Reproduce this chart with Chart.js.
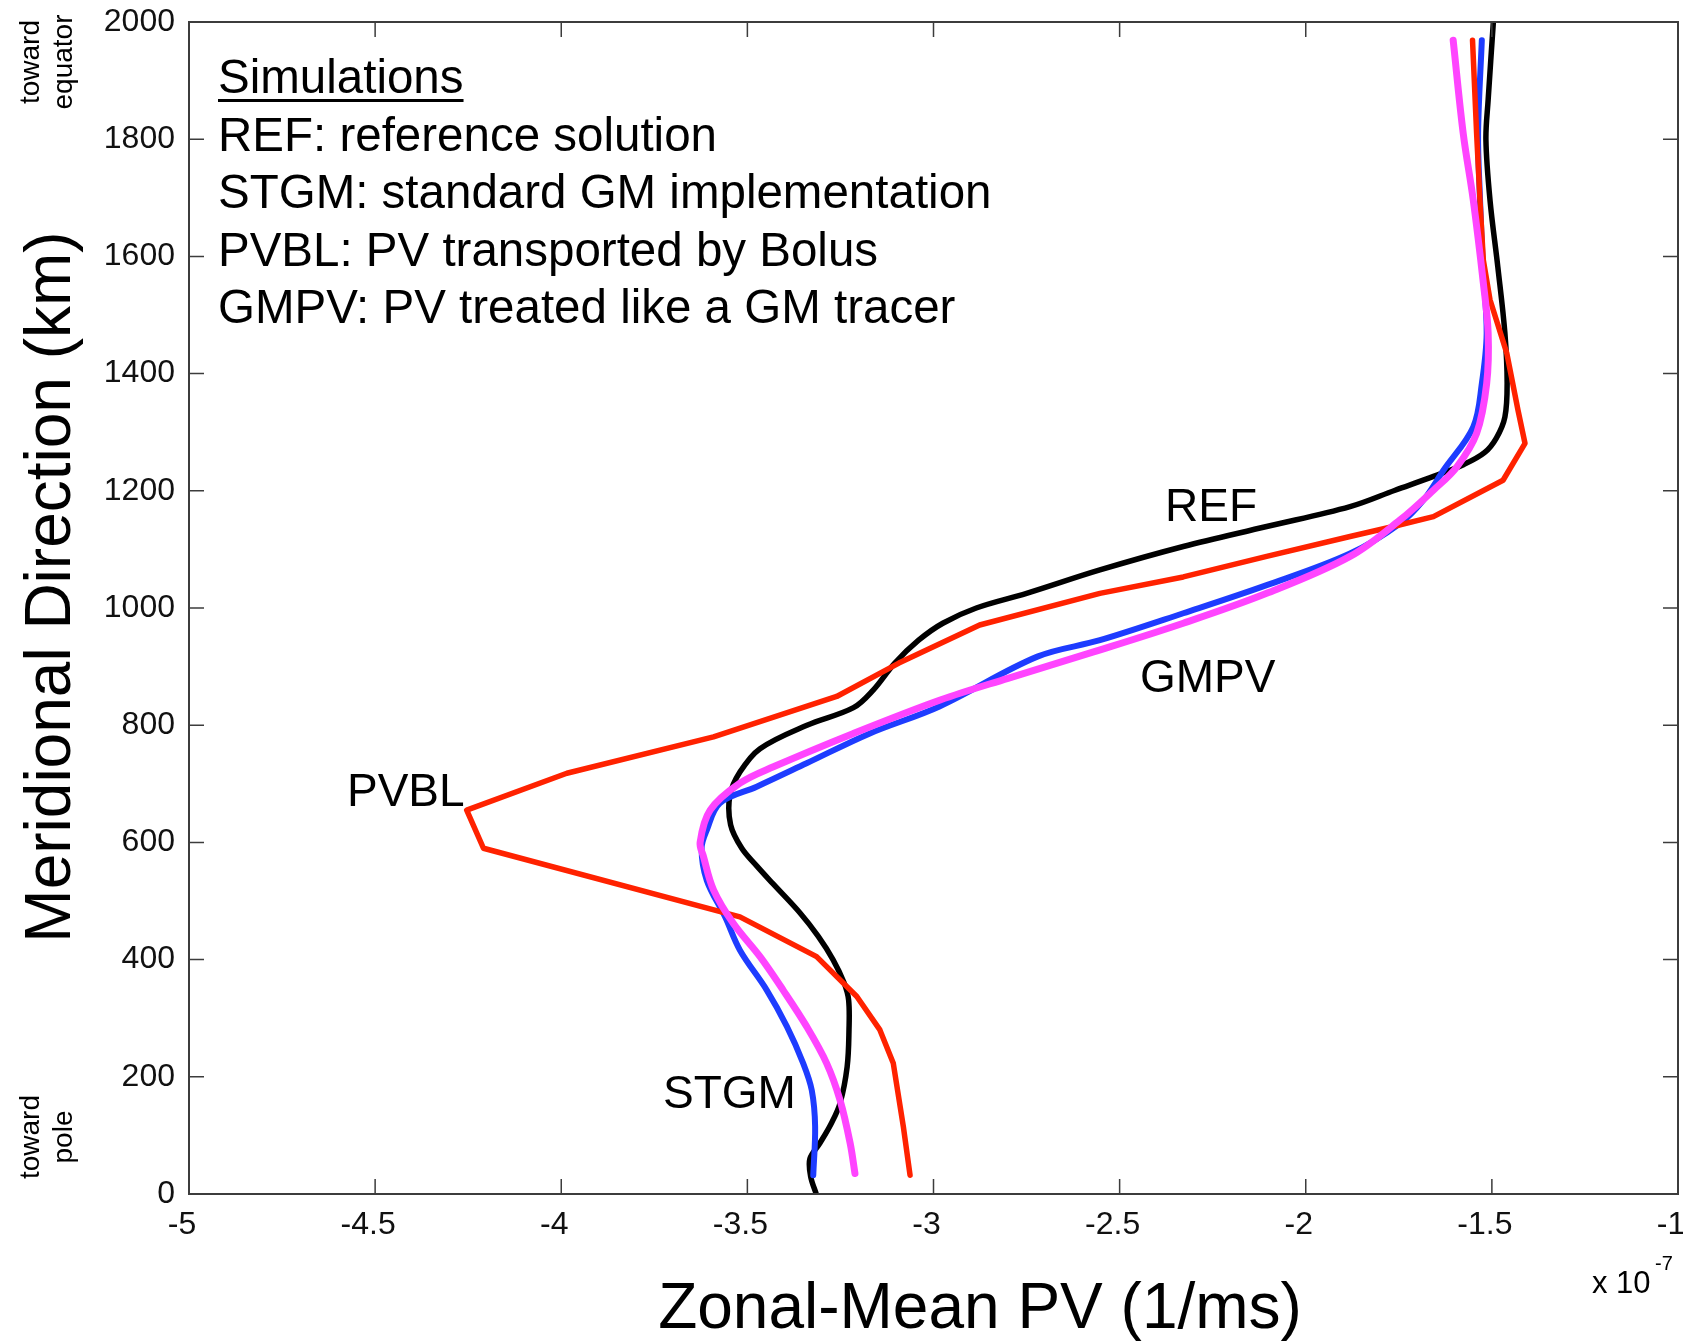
<!DOCTYPE html>
<html>
<head>
<meta charset="utf-8">
<title>Zonal-Mean PV</title>
<script src="https://cdn.jsdelivr.net/npm/chart.js"></script>
<style>
  body { margin: 0; background: #fff; }
  #wrap { width: 1683px; height: 1343px; position: relative; }
</style>
</head>
<body>
<div id="wrap"><canvas id="pvChart"></canvas></div>
<script>
// values: km (meridional) vs zonal-mean PV (x 1e-7)
const refKm = [0, 30, 60, 87, 120, 155, 217, 280, 331, 360, 400, 440, 480, 530, 560, 590, 630, 680, 720, 760, 800, 830, 860, 906, 945, 974, 1000, 1025, 1065, 1105, 1139, 1173, 1201, 1225, 1245, 1265, 1290, 1326, 1384, 1469, 1582, 1696, 1799, 1867, 2000];
const refPV = [-3.315, -3.330, -3.332, -3.305, -3.275, -3.251, -3.232, -3.227, -3.228, -3.240, -3.270, -3.310, -3.359, -3.432, -3.475, -3.515, -3.545, -3.547, -3.520, -3.466, -3.340, -3.215, -3.162, -3.104, -3.040, -2.975, -2.885, -2.750, -2.553, -2.329, -2.105, -1.881, -1.760, -1.655, -1.575, -1.520, -1.488, -1.465, -1.459, -1.465, -1.484, -1.505, -1.516, -1.510, -1.496];

const stgmKm = [32, 115, 177, 223, 286, 348, 416, 473, 535, 590, 621, 667, 695, 735, 786, 832, 917, 945, 991, 1039, 1093, 1144, 1184, 1235, 1309, 1383, 1469, 1582, 1700, 1810, 1969];
const stgmPV = [-3.323, -3.318, -3.327, -3.350, -3.394, -3.448, -3.520, -3.560, -3.609, -3.623, -3.609, -3.574, -3.475, -3.341, -3.171, -2.984, -2.721, -2.553, -2.329, -2.105, -1.881, -1.747, -1.684, -1.630, -1.550, -1.527, -1.514, -1.524, -1.532, -1.537, -1.527];

const pvblKm = [32, 115, 223, 280, 337, 405, 473, 590, 655, 718, 780, 849, 906, 971, 1025, 1053, 1088, 1122, 1139, 1156, 1218, 1281, 1338, 1435, 1526, 1594, 1696, 1810, 1969];
const pvblPV = [-3.063, -3.081, -3.108, -3.144, -3.206, -3.314, -3.520, -4.209, -4.254, -3.985, -3.591, -3.260, -3.093, -2.876, -2.553, -2.329, -2.105, -1.881, -1.765, -1.657, -1.470, -1.411, -1.430, -1.460, -1.505, -1.523, -1.532, -1.541, -1.552];

const gmpvKm = [35, 87, 160, 223, 286, 348, 405, 462, 519, 576, 600, 655, 701, 729, 786, 843, 880, 925, 974, 1025, 1088, 1150, 1201, 1241, 1298, 1383, 1469, 1555, 1696, 1810, 1969];
const gmpvPV = [-3.211, -3.224, -3.251, -3.287, -3.341, -3.404, -3.466, -3.538, -3.591, -3.618, -3.627, -3.600, -3.520, -3.430, -3.215, -2.982, -2.800, -2.570, -2.329, -2.105, -1.881, -1.747, -1.657, -1.594, -1.541, -1.514, -1.510, -1.523, -1.550, -1.577, -1.604];

const pvTicks = [-5, -4.5, -4, -3.5, -3, -2.5, -2, -1.5, -1];
const kmTicks = [0, 200, 400, 600, 800, 1000, 1200, 1400, 1600, 1800, 2000];

const legendLines = [
  "REF: reference solution",
  "STGM: standard GM implementation",
  "PVBL: PV transported by Bolus",
  "GMPV: PV treated like a GM tracer"
];
const curveLabels = [
  { text: "REF", x: 1165, y: 521 },
  { text: "GMPV", x: 1140, y: 692 },
  { text: "PVBL", x: 347, y: 806 },
  { text: "STGM", x: 663, y: 1108 }
];

const FONT = "Arial, 'Liberation Sans', Helvetica, sans-serif";

function toPoints(km, pv) {
  return km.map((y, i) => ({ x: pv[i], y: y }));
}

function lineSet(label, km, pv, color, width, tension, order) {
  return {
    label: label,
    data: toPoints(km, pv),
    showLine: true,
    borderColor: color,
    backgroundColor: color,
    borderWidth: width,
    pointRadius: 0,
    tension: tension,
    borderJoinStyle: "round",
    borderCapStyle: "round",
    order: order
  };
}

function noOverflow(s) {
  // keep the plot box where the figure has it, labels may hang over
  s.paddingTop = 0;
  s.paddingBottom = 0;
  s.paddingLeft = 0;
  s.paddingRight = 0;
}

// frame, inward ticks and all the annotation text
const decorations = {
  id: "decorations",
  afterDatasetsDraw(chart) {
    const { ctx, chartArea } = chart;
    const xs = chart.scales.x;
    const ys = chart.scales.y;
    const tick = 15;
    ctx.save();
    ctx.strokeStyle = "#3c3c3c";
    ctx.lineWidth = 2;
    ctx.strokeRect(chartArea.left, chartArea.top, chartArea.right - chartArea.left, chartArea.bottom - chartArea.top);
    ctx.lineWidth = 1.5;
    ctx.beginPath();
    xs.ticks.forEach((t) => {
      const px = xs.getPixelForValue(t.value);
      ctx.moveTo(px, chartArea.bottom);
      ctx.lineTo(px, chartArea.bottom - tick);
      ctx.moveTo(px, chartArea.top);
      ctx.lineTo(px, chartArea.top + tick);
    });
    ys.ticks.forEach((t) => {
      const py = ys.getPixelForValue(t.value);
      ctx.moveTo(chartArea.left, py);
      ctx.lineTo(chartArea.left + tick, py);
      ctx.moveTo(chartArea.right, py);
      ctx.lineTo(chartArea.right - tick, py);
    });
    ctx.stroke();

    ctx.fillStyle = "#000";
    ctx.textBaseline = "alphabetic";
    ctx.textAlign = "left";

    // legend block
    ctx.font = "47.5px " + FONT;
    ctx.fillText("Simulations", 218, 93);
    const w = ctx.measureText("Simulations").width;
    ctx.fillRect(218, 99, w, 3);
    legendLines.forEach((line, i) => {
      ctx.fillText(line, 218, 150.5 + i * 57.5);
    });

    // curve labels
    ctx.font = "46px " + FONT;
    curveLabels.forEach((l) => ctx.fillText(l.text, l.x, l.y));

    // axis titles
    ctx.font = "64px " + FONT;
    ctx.textAlign = "center";
    ctx.fillText("Zonal-Mean PV (1/ms)", 980, 1328);
    ctx.save();
    ctx.translate(70, 587);
    ctx.rotate(-Math.PI / 2);
    ctx.fillText("Meridional Direction (km)", 0, 0);
    ctx.restore();

    // toward equator / toward pole
    ctx.font = "28px " + FONT;
    [[62, "toward", "equator"], [1137, "toward", "pole"]].forEach(([cy, a, b]) => {
      ctx.save();
      ctx.translate(39, cy);
      ctx.rotate(-Math.PI / 2);
      ctx.fillText(a, 0, 0);
      ctx.restore();
      ctx.save();
      ctx.translate(72, cy);
      ctx.rotate(-Math.PI / 2);
      ctx.fillText(b, 0, 0);
      ctx.restore();
    });

    // exponent note
    ctx.textAlign = "left";
    ctx.font = "31px " + FONT;
    ctx.fillText("x 10", 1592, 1293);
    ctx.font = "20px " + FONT;
    ctx.fillText("-7", 1655, 1270);
    ctx.restore();
  }
};

function initChart() {
  const target = document.querySelector("#pvChart");
  const tickFont = { family: FONT, size: 32 };
  return new Chart(target, {
    type: "scatter",
    data: {
      datasets: [
        lineSet("REF", refKm, refPV, "#000000", 5.5, 0.35, 4),
        lineSet("STGM", stgmKm, stgmPV, "#1e3cff", 6, 0.35, 3),
        lineSet("PVBL", pvblKm, pvblPV, "#ff2200", 5.5, 0, 2),
        lineSet("GMPV", gmpvKm, gmpvPV, "#ff44ff", 7, 0.35, 1)
      ]
    },
    options: {
      responsive: true,
      maintainAspectRatio: false,
      animation: false,
      events: [],
      layout: { padding: { top: 22, right: 5, bottom: 0, left: 0 } },
      plugins: { legend: { display: false }, tooltip: { enabled: false } },
      scales: {
        x: {
          type: "linear",
          min: -5,
          max: -1,
          afterBuildTicks: (s) => { s.ticks = pvTicks.map((v) => ({ value: v })); },
          afterFit: (s) => { s.height = 149; noOverflow(s); },
          grid: { display: false, drawTicks: false },
          border: { display: false },
          ticks: {
            callback: (v) => String(v),
            font: tickFont,
            color: "#111",
            padding: 12,
            labelOffset: -7,
            maxRotation: 0,
            autoSkip: false
          }
        },
        y: {
          type: "linear",
          min: 0,
          max: 2000,
          afterBuildTicks: (s) => { s.ticks = kmTicks.map((v) => ({ value: v })); },
          afterFit: (s) => { s.width = 189; noOverflow(s); },
          grid: { display: false, drawTicks: false },
          border: { display: false },
          ticks: {
            callback: (v) => String(v),
            font: tickFont,
            color: "#111",
            padding: 14,
            autoSkip: false
          }
        }
      }
    },
    plugins: [decorations]
  });
}

document.addEventListener("DOMContentLoaded", () => initChart());
</script>
</body>
</html>
